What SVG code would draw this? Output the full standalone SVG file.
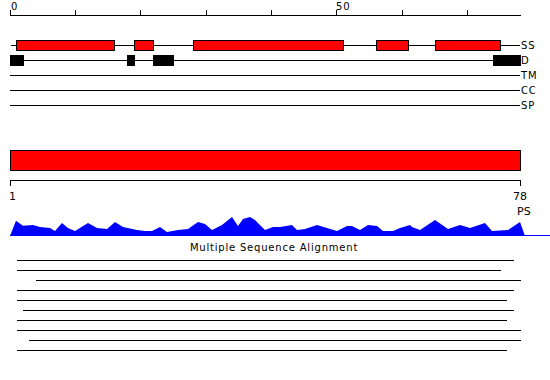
<svg xmlns="http://www.w3.org/2000/svg" width="550" height="380" viewBox="0 0 550 380">
<style>
.ln{stroke:#000;stroke-width:1;fill:none}
.ss{fill:#ff0000;stroke:#000;stroke-width:1}
.d{fill:#000;stroke:#000;stroke-width:1}
.t{font-family:"DejaVu Sans",sans-serif;font-size:10px;fill:#000;letter-spacing:0.8px}
.tb{font-family:"DejaVu Sans",sans-serif;font-size:11px;fill:#000}
</style>
<rect width="550" height="380" fill="#fff"/>
<g id="top-axis">
<path class="ln" d="M10,15.5H521 M10.5,10V15 M75.5,10V15 M140.5,10V15 M206.5,10V15 M271.5,10V15 M336.5,10V15 M402.5,10V15 M467.5,10V15"/>
<text class="t" x="11" y="9.5">0</text>
<text class="t" x="336" y="9.5">50</text>
</g>
<g id="connectors">
<path class="ln" d="M11,45.5H520 M10,60.5H520 M10,75.5H520 M10,90.5H520 M10,105.5H520"/>
</g>
<g id="ss-row">
<rect class="ss" x="16.5" y="40.5" width="98" height="10"/>
<rect class="ss" x="134.5" y="40.5" width="19" height="10"/>
<rect class="ss" x="193.5" y="40.5" width="150" height="10"/>
<rect class="ss" x="376.5" y="40.5" width="32" height="10"/>
<rect class="ss" x="435.5" y="40.5" width="65" height="10"/>
<text class="t" x="521" y="48.5">SS</text>
</g>
<g id="d-row">
<rect class="d" x="10.5" y="55.5" width="13" height="10"/>
<rect class="d" x="127.5" y="55.5" width="7" height="10"/>
<rect class="d" x="153.5" y="55.5" width="20" height="10"/>
<rect class="d" x="493.5" y="55.5" width="27" height="10"/>
<text class="t" x="521" y="64">D</text>
</g>
<g id="tm-row"><text class="t" x="521" y="78.5">TM</text></g>
<g id="cc-row"><text class="t" x="521" y="93.5">CC</text></g>
<g id="sp-row"><text class="t" x="521" y="108.5">SP</text></g>
<g id="sequence-bar">
<rect class="ss" x="10.5" y="150.5" width="510" height="20"/>
<path class="ln" d="M10,180.5H521 M10.5,180V186 M520.5,180V186"/>
<text class="tb" x="9" y="200">1</text>
<text class="tb" x="513" y="200">78</text>
<text class="tb" x="517" y="215">PS</text>
</g>
<g id="profile">
<polygon fill="#0000ff" points="10,236 16,220.7 23,225.7 33,225 40,227 50,228 55,231 62,223 68,228 75,231 88,223 97,228 107,229 115,222 123,227 137,230 145,231 152,231 160,227 167,232 178,230 188,229 198,222 205,224 212,230 222,225 232,217 238,226 243,219 250,217 255,220 265,230 273,227 280,227 292,225 297,230 305,229 317,225 327,228 337,231 347,226 352,226 360,230 368,225 377,226 383,231 393,231 400,228 410,225 412,227 420,230 435,220 448,229 460,225 470,228 485,223 492,231 508,230 520,222 525,236"/>
<path d="M10,235.5H550" stroke="#0000ff" stroke-width="1"/>
</g>
<g id="msa">
<text class="t" x="274" y="251" text-anchor="middle">Multiple Sequence Alignment</text>
<path class="ln" d="M17,260.5H514 M17,270.5H501 M36,280.5H521 M17,290.5H514 M17,300.5H507 M23,310.5H514 M17,320.5H507 M17,330.5H521 M29,340.5H521 M17,350.5H507"/>
</g>
</svg>
